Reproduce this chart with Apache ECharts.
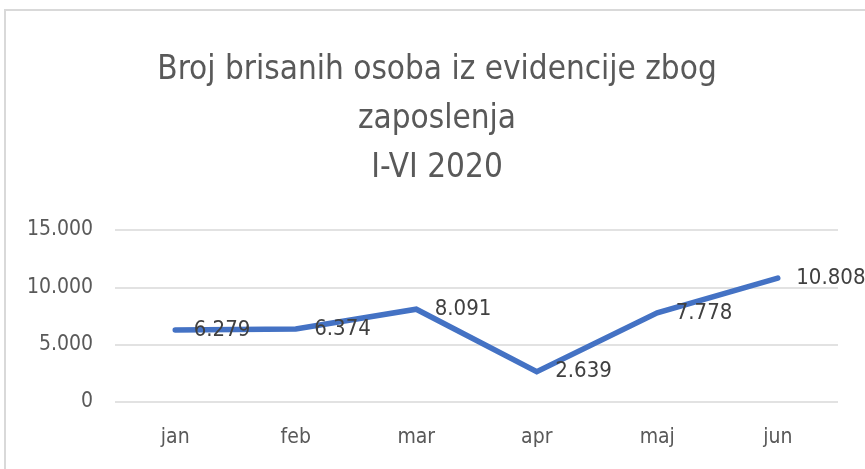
<!DOCTYPE html>
<html>
<head>
<meta charset="utf-8">
<script src="https://cdn.jsdelivr.net/npm/echarts@6/dist/echarts.min.js"></script>
<style>
    html, body { margin: 0; padding: 0; background: #fff; }
    #main { width: 865px; height: 469px; }
</style>
</head>
<body>
<div id="main"></div>
<script>
    var months = ['jan', 'feb', 'mar', 'apr', 'maj', 'jun'];
    var brisani = [6279, 6374, 8091, 2639, 7778, 10808];
    var yTicks = [0, 5000, 10000, 15000];

    var font = '"Liberation Sans Narrow", "DejaVu Sans Condensed", sans-serif';

    function fmt(v) {
        return String(v).replace(/\B(?=(\d{3})+(?!\d))/g, '.');
    }

    var chart = echarts.init(document.getElementById('main'));
    var option = {};
    option.backgroundColor = '#fff';
    option.graphic = [{
        type: 'rect',
        shape: { x: 5, y: 10, width: 900, height: 500 },
        style: { fill: 'none', stroke: '#d9d9d9', lineWidth: 2 },
        silent: true
    }];
    option.title = {
        text: 'Broj brisanih osoba iz evidencije zbog\nzaposlenja\nI-VI 2020',
        left: 437,
        top: 46,
        padding: 0,
        textAlign: 'center',
        textStyle: {
            fontFamily: font,
            fontSize: 33,
            fontWeight: 'normal',
            color: '#595959',
            lineHeight: 49,
            align: 'center'
        }
    };
    option.grid = { left: 115, right: 27, top: 230, bottom: 67 };
    option.xAxis = {
        type: 'category',
        data: months,
        boundaryGap: true,
        axisLine: { show: false },
        axisTick: { show: false },
        axisLabel: { margin: 25, fontFamily: font, fontSize: 21, color: '#595959' }
    };
    option.yAxis = {
        type: 'value',
        min: yTicks[0],
        max: yTicks[yTicks.length - 1],
        interval: 5000,
        axisLine: { show: false },
        axisTick: { show: false },
        axisLabel: { margin: 22, fontFamily: font, fontSize: 21, color: '#595959', formatter: fmt },
        splitLine: { lineStyle: { color: '#d9d9d9', width: 1.5 } }
    };
    option.series = [{
        type: 'line',
        data: brisani,
        symbol: 'circle',
        symbolSize: 1,
        showSymbol: true,
        itemStyle: { color: '#4472C4' },
        lineStyle: { color: '#4472C4', width: 5.5, cap: 'round', join: 'miter' },
        label: {
            show: true,
            position: 'right',
            distance: 18,
            fontFamily: font,
            fontSize: 22,
            color: '#404040',
            formatter: function (p) { return fmt(p.value); }
        },
        animation: false
    }];
    option.animation = false;
    chart.setOption(option);
</script>
</body>
</html>
